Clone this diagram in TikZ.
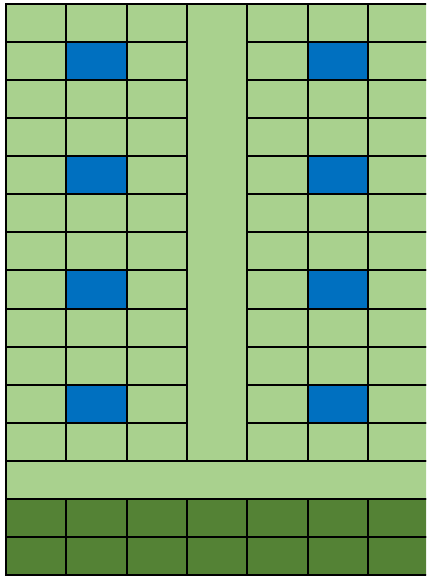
\documentclass[tikz,border=0pt]{standalone}
\definecolor{lgreen}{HTML}{A9D18E}
\definecolor{dgreen}{HTML}{548235}
\definecolor{cblue}{HTML}{0070C0}
\tikzset{cell/.style={draw=black,line width=2pt},
  lcell/.style={cell,fill=lgreen},
  bcell/.style={cell,fill=cblue},
  dcell/.style={cell,fill=dgreen}}
\begin{document}
\begin{tikzpicture}[x=1pt,y=-1pt]
\useasboundingbox (0,0) rectangle (426,576);
\clip (0,0) rectangle (426,576);
\def\cw{60.3}\def\rh{38.07}
\def\xo{6}\def\yo{4}
% upper blocks
\foreach \c in {0,1,2,4,5,6}{
  \foreach \r in {0,...,11}{
    \pgfmathsetmacro{\xa}{\xo+\c*\cw}
    \pgfmathsetmacro{\ya}{\yo+\r*\rh}
    \pgfmathtruncatemacro{\isb}{((\c==1 || \c==5) && (\r==1 || \r==4 || \r==7 || \r==10)) ? 1 : 0}
    \ifnum\isb=1
      \draw[bcell] (\xa,\ya) rectangle ++(\cw,\rh);
    \else
      \draw[lcell] (\xa,\ya) rectangle ++(\cw,\rh);
    \fi
  }
}
% central aisle
\draw[lcell] (\xo+3*\cw,\yo) rectangle (\xo+4*\cw,\yo+12*\rh);
% cross aisle
\draw[lcell] (\xo,\yo+12*\rh) rectangle (\xo+7*\cw,\yo+13*\rh);
% bottom dark rows
\foreach \c in {0,...,6}{
  \foreach \r in {13,14}{
    \draw[dcell] (\xo+\c*\cw,\yo+\r*\rh) rectangle ++(\cw,\rh);
  }
}
\end{tikzpicture}
\end{document}
